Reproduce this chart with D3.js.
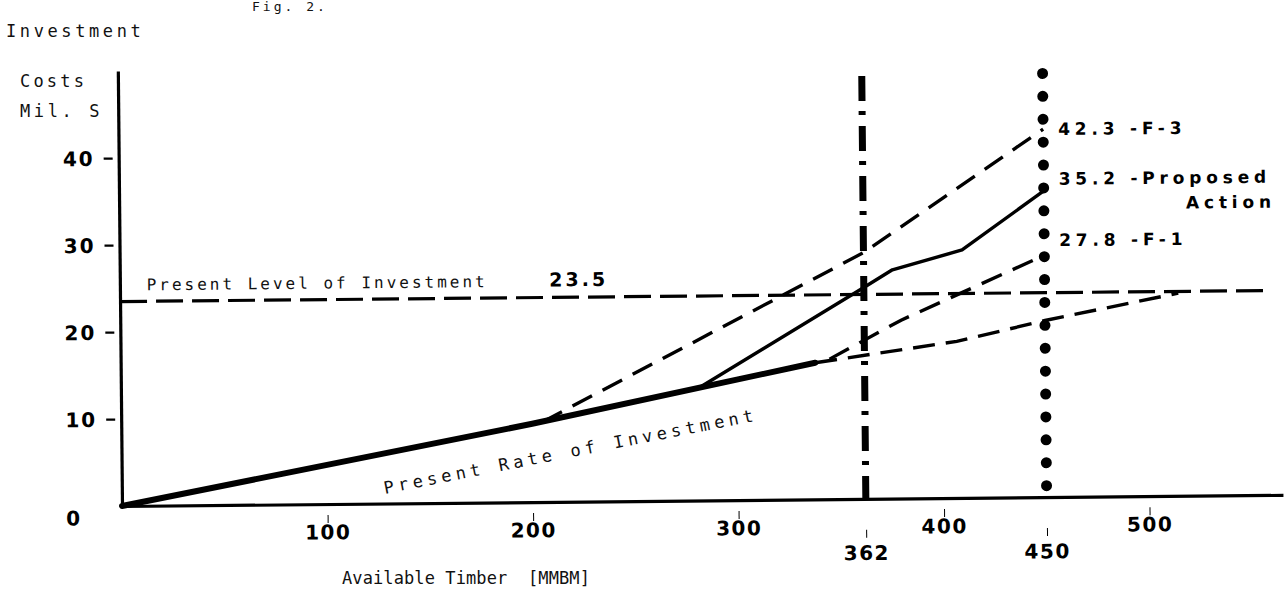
<!DOCTYPE html>
<html>
<head>
<meta charset="utf-8">
<script src="https://cdn.jsdelivr.net/npm/d3@7/dist/d3.min.js"></script>
<style>
  html, body { margin: 0; padding: 0; background: #fff; }
  svg { display: block; }
  .mono { font-family: "DejaVu Sans Mono", monospace; fill: #111; }
  .num { font-family: "DejaVu Sans", sans-serif; font-weight: bold; fill: #000; }
</style>
</head>
<body>
<script>
// ---------- data ----------
const xTicks = [100, 200, 300, 400, 500];
const xMarks = [362, 450];
const yTicks = [10, 20, 30, 40];
const presentLevelValue = 23.5;
const presentLevel = [[0, 23.5], [557, 23.5]];
const presentRate = [[0, 0], [200, 9.0], [338, 15.7]];
const presentRateExt = [[338, 15.7], [407, 18.0], [450, 20.3], [515, 23.3]];
const f3 = [[205, 9.2], [362, 28.3], [450, 42.3]];
const proposed = [[281, 12.9], [362, 24.3], [376, 26.3], [410, 28.5], [450, 35.2]];
const f1 = [[345, 16.1], [380, 20.5], [450, 27.8]];
const endLabels = [
  { value: 42.3, text: "42.3 -F-3" },
  { value: 35.2, text: "35.2 -Proposed" },
  { value: 27.8, text: "27.8 -F-1" }
];

// ---------- layout ----------
const W = 1288, H = 598;
const svg = d3.select("body").append("svg").attr("width", W).attr("height", H);
const x = d3.scaleLinear().domain([0, 565]).range([122, 1283]);
const y = d3.scaleLinear().domain([0, 50]).range([506, 71]);

// partial page title (cut off at top in the original)
svg.append("text").attr("class", "mono").attr("x", 252).attr("y", 11)
  .attr("font-size", 13).attr("letter-spacing", 3).text("Fig. 2.");

// y-axis title
svg.append("text").attr("class", "mono").attr("x", 6).attr("y", 37)
  .attr("font-size", 17).attr("letter-spacing", 3.6).text("Investment");
svg.append("text").attr("class", "mono").attr("x", 20).attr("y", 87)
  .attr("font-size", 17).attr("letter-spacing", 3.2).text("Costs");
svg.append("text").attr("class", "mono").attr("x", 20).attr("y", 117)
  .attr("font-size", 17).attr("letter-spacing", 3.6).text("Mil. S");

// x-axis title
svg.append("text").attr("class", "mono").attr("x", 342).attr("y", 584)
  .attr("font-size", 17).attr("letter-spacing", 0.1).text("Available Timber\u00A0\u00A0[MMBM]");

const g = svg.append("g").attr("transform", "rotate(-0.55,122,506)");

// axes
const yAxis = g.append("g").attr("transform", `translate(${x(0)},0)`)
  .call(d3.axisLeft(y).tickValues(yTicks).tickSize(0).tickSizeOuter(0).tickPadding(24));
yAxis.select(".domain").attr("stroke", "#000").attr("stroke-width", 3.2);
yAxis.selectAll(".tick line").attr("x1", -15).attr("x2", -6).attr("stroke", "#000").attr("stroke-width", 2.2);
yAxis.selectAll(".tick text").attr("class", "num").attr("font-size", 20).attr("letter-spacing", 2).attr("dy", "0.36em");

g.append("text").attr("class", "num").attr("x", x(0) - 56).attr("y", y(0) + 19)
  .attr("font-size", 20).text("0");

const xAxis = g.append("g").attr("transform", `translate(0,${y(0)})`)
  .call(d3.axisBottom(x).tickValues(xTicks).tickSize(0).tickSizeOuter(0).tickPadding(21));
xAxis.select(".domain").attr("stroke", "#000").attr("stroke-width", 3.2);
xAxis.selectAll(".tick line").attr("y1", 11).attr("y2", 19).attr("stroke", "#000").attr("stroke-width", 1);
xAxis.selectAll(".tick text").attr("class", "num").attr("font-size", 20).attr("letter-spacing", 1.5);

const xAxis2 = g.append("g").attr("transform", `translate(0,${y(0)})`)
  .call(d3.axisBottom(x).tickValues(xMarks).tickSize(0).tickPadding(47));
xAxis2.select(".domain").remove();
xAxis2.selectAll(".tick line").attr("y1", 31).attr("y2", 39).attr("stroke", "#000").attr("stroke-width", 1);
xAxis2.selectAll(".tick text").attr("class", "num").attr("font-size", 20).attr("letter-spacing", 1.5);

// reference verticals
g.append("line")
  .attr("x1", x(362)).attr("x2", x(362)).attr("y1", y(48.6)).attr("y2", y(0))
  .attr("stroke", "#000").attr("stroke-width", 7)
  .attr("stroke-dasharray", "25 10 4 11");
g.append("line")
  .attr("x1", x(450)).attr("x2", x(450)).attr("y1", y(48.7)).attr("y2", y(0.9))
  .attr("stroke", "#000").attr("stroke-width", 11).attr("stroke-linecap", "round")
  .attr("stroke-dasharray", "0 22.9");

// lines
const line = d3.line().x(d => x(d[0])).y(d => y(d[1]));
g.append("path").datum(presentLevel).attr("d", line).attr("fill", "none")
  .attr("stroke", "#000").attr("stroke-width", 3.2).attr("stroke-dasharray", "27 9");
g.append("path").datum(presentRate).attr("d", line).attr("fill", "none")
  .attr("stroke", "#000").attr("stroke-width", 6).attr("stroke-linejoin", "round").attr("stroke-linecap", "round");
g.append("path").datum(presentRateExt).attr("d", line).attr("fill", "none")
  .attr("stroke", "#000").attr("stroke-width", 3.4).attr("stroke-dasharray", "22 11");
g.append("path").datum(f3).attr("d", line).attr("fill", "none")
  .attr("stroke", "#000").attr("stroke-width", 3.4).attr("stroke-dasharray", "22 12");
g.append("path").datum(proposed).attr("d", line).attr("fill", "none")
  .attr("stroke", "#000").attr("stroke-width", 3.4).attr("stroke-linejoin", "round");
g.append("path").datum(f1).attr("d", line).attr("fill", "none")
  .attr("stroke", "#000").attr("stroke-width", 3.4).attr("stroke-dasharray", "22 12");

// annotations
g.append("text").attr("class", "mono").attr("x", x(13)).attr("y", y(presentLevelValue) - 11)
  .attr("font-size", 16).attr("letter-spacing", 3).text("Present Level of Investment");
g.append("text").attr("class", "num").attr("x", x(209)).attr("y", y(presentLevelValue) - 11)
  .attr("font-size", 19).attr("letter-spacing", 3).text(presentLevelValue);

const ang = -10.6;
g.append("text").attr("class", "mono")
  .attr("transform", `translate(${x(128)},${y(1.1)}) rotate(${ang})`)
  .attr("font-size", 17).attr("letter-spacing", 4.4).text("Present Rate of Investment");

const labelDy = [6, -6, -9];
g.selectAll(".endlab").data(endLabels).enter().append("text")
  .attr("class", "num endlab").attr("x", x(450) + 15).attr("y", (d, i) => y(d.value) + labelDy[i])
  .attr("font-size", 17).attr("letter-spacing", 4.8).text(d => d.text);
g.append("text").attr("class", "num").attr("x", x(450) + 232).attr("y", y(35.2) + 19)
  .attr("text-anchor", "end").attr("font-size", 17).attr("letter-spacing", 4.8).text("Action");
</script>
</body>
</html>
